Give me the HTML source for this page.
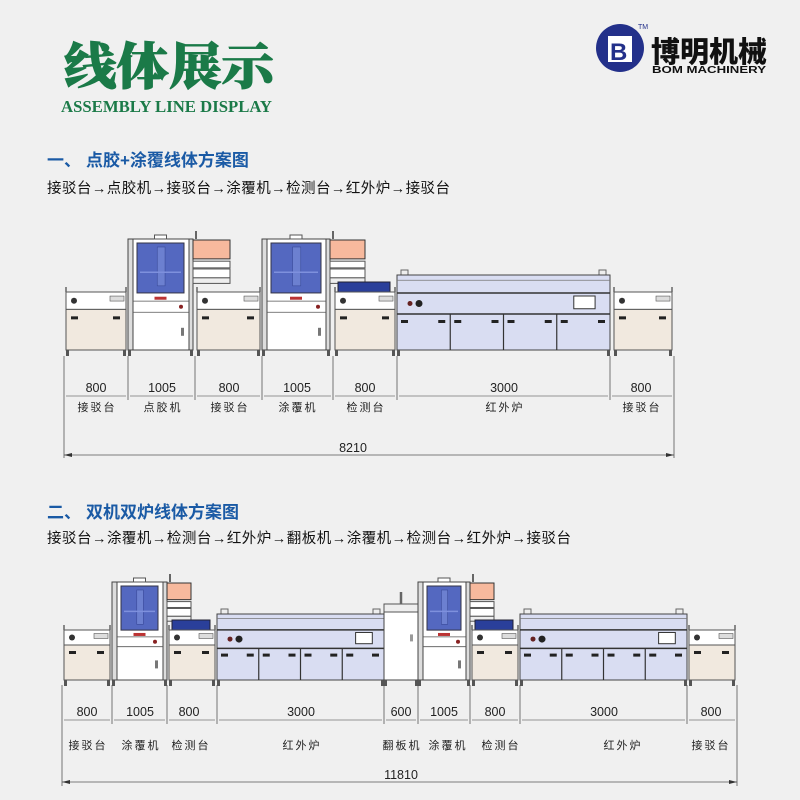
<!DOCTYPE html>
<html><head><meta charset="utf-8"><style>
body{margin:0;background:#f0f0f0;}
#c{position:absolute;left:0;top:0;}
.t{font-family:"Liberation Sans","Noto Sans CJK SC",sans-serif;}
</style></head><body>
<svg id="c" width="800" height="800" xmlns="http://www.w3.org/2000/svg">
<rect width="800" height="800" fill="#f0f0f0"/>
<g id="m"></g>
<text x="64" y="84" font-family="'Noto Serif CJK SC',serif" font-weight="900" font-size="50" fill="#1b7a48" textLength="210" lengthAdjust="spacingAndGlyphs" stroke="#1b7a48" stroke-width="1">线体展示</text>
<text x="61" y="112" font-family="'Liberation Serif',serif" font-weight="bold" font-size="17" fill="#1b7a48" textLength="211" lengthAdjust="spacingAndGlyphs">ASSEMBLY LINE DISPLAY</text>
<circle cx="620" cy="48" r="24" fill="#23308a"/>
<rect x="608" y="36" width="24" height="26" fill="#fff"/>
<text x="610" y="60" font-family="'Liberation Sans',sans-serif" font-weight="bold" font-size="24" fill="#23308a">B</text>
<text x="638" y="29" font-family="'Liberation Sans',sans-serif" font-size="7" fill="#23308a">TM</text>
<text x="651" y="62" font-family="'Noto Sans CJK SC',sans-serif" font-weight="900" font-size="29" fill="#111" textLength="116" lengthAdjust="spacingAndGlyphs">博明机械</text>
<text x="652" y="73" font-family="'Liberation Sans',sans-serif" font-weight="bold" font-size="10.5" fill="#111" textLength="114" lengthAdjust="spacingAndGlyphs">BOM MACHINERY</text>
<text class="t" x="47" y="166" font-size="17" font-weight="bold" fill="#1a5aa5">一、</text>
<text class="t" x="86" y="166" font-size="17" font-weight="bold" fill="#1a5aa5">点胶+涂覆线体方案图</text>
<text class="t" x="47" y="193" font-size="14.5" fill="#111" textLength="403" lengthAdjust="spacing">接驳台→点胶机→接驳台→涂覆机→检测台→红外炉→接驳台</text>
<text class="t" x="47" y="518" font-size="17" font-weight="bold" fill="#1a5aa5">二、</text>
<text class="t" x="86" y="518" font-size="17" font-weight="bold" fill="#1a5aa5">双机双炉线体方案图</text>
<text class="t" x="47" y="543" font-size="14.5" fill="#111" textLength="524" lengthAdjust="spacing">接驳台→涂覆机→检测台→红外炉→翻板机→涂覆机→检测台→红外炉→接驳台</text>
<g class="t" font-size="12.5" fill="#222" text-anchor="middle">
<text x="96" y="392">800</text><text x="162" y="392">1005</text><text x="229" y="392">800</text><text x="297" y="392">1005</text><text x="365" y="392">800</text><text x="504" y="392">3000</text><text x="641" y="392">800</text>
<g font-size="11" letter-spacing="2"><text x="97" y="411">接驳台</text><text x="163" y="411">点胶机</text><text x="230" y="411">接驳台</text><text x="298" y="411">涂覆机</text><text x="366" y="411">检测台</text><text x="505" y="411">红外炉</text><text x="642" y="411">接驳台</text></g>
<text x="353" y="452">8210</text>
<text x="87" y="716">800</text><text x="140" y="716">1005</text><text x="189" y="716">800</text><text x="301" y="716">3000</text><text x="401" y="716">600</text><text x="444" y="716">1005</text><text x="495" y="716">800</text><text x="604" y="716">3000</text><text x="711" y="716">800</text>
<g font-size="11" letter-spacing="2"><text x="88" y="749">接驳台</text><text x="141" y="749">涂覆机</text><text x="191" y="749">检测台</text><text x="302" y="749">红外炉</text><text x="402" y="749">翻板机</text><text x="448" y="749">涂覆机</text><text x="501" y="749">检测台</text><text x="623" y="749">红外炉</text><text x="711" y="749">接驳台</text></g>
<text x="401" y="779">11810</text>
</g>
<path d="M64 455 l8 -2 v4 z M674 455 l-8 -2 v4 z M62 782 l8 -2 v4 z M737 782 l-8 -2 v4 z" fill="#333"/>
</svg>
<script>
const g=document.getElementById('m');const NS='http://www.w3.org/2000/svg';
function r(x,y,w,h,f,s,sw){const e=document.createElementNS(NS,'rect');e.setAttribute('x',x);e.setAttribute('y',y);e.setAttribute('width',w);e.setAttribute('height',h);e.setAttribute('fill',f||'none');if(s!==0){e.setAttribute('stroke',s||'#444');e.setAttribute('stroke-width',sw||1);}g.appendChild(e);}
function l(x1,y1,x2,y2,s,sw){const e=document.createElementNS(NS,'line');e.setAttribute('x1',x1);e.setAttribute('y1',y1);e.setAttribute('x2',x2);e.setAttribute('y2',y2);e.setAttribute('stroke',s||'#555');e.setAttribute('stroke-width',sw||0.8);g.appendChild(e);}
function c(x,y,rr,f){const e=document.createElementNS(NS,'circle');e.setAttribute('cx',x);e.setAttribute('cy',y);e.setAttribute('r',rr);e.setAttribute('fill',f);g.appendChild(e);}
function feet(x1,x2,y){r(x1,y,3,6,'#555',0);r(x2-3,y,3,6,'#555',0);}
function conv(x1,x2,top,bot,blue){const w=x2-x1;const h=bot-top;
 if(blue)r(x1+5,top-10,w-12,10,'#2a3f9a','#223');
 r(x1+2,top,w-4,h*0.3,'#fff','#555');r(x1+2,top+h*0.3,w-4,h*0.7,'#f1e9df','#555');
 c(x1+10,top+h*0.15,3,'#333');r(x2-18,top+h*0.07,14,5,'#ddd','#555',.6);
 r(x1+7,top+h*0.42,7,3,'#222',0);r(x2-15,top+h*0.42,7,3,'#222',0);
 l(x1+2,top,x1+2,top-5,'#666',1.5);l(x2-2,top,x2-2,top-5,'#666',1.5);feet(x1+2,x2-2,bot);}
function mach(x1,x2,top,bot,mon){const w=x2-x1,h=bot-top;
 r(x1,top,5,h,'#ddd','#444');r(x1+5,top,w-9,h,'#fff','#444');r(x2-4,top,4,h,'#ddd','#444');
 r(x1+w/2-6,top-4,12,4,'#fff','#555');
 r(x1+9,top+4,w-18,h*0.45,'#5468c0','#334');
 r(x1+w*0.45,top+8,w*0.12,h*0.35,'#6c80d0','#3a4a9a',.6);l(x1+12,top+h*0.3,x2-12,top+h*0.3,'#7e90dd',1.5);
 r(x1+w/2-6,top+h*0.52,12,3,'#b33',0);
 l(x1+5,top+h*0.56,x2-4,top+h*0.56,'#555');l(x1+5,top+h*0.66,x2-4,top+h*0.66,'#555');
 c(x2-12,top+h*0.61,2,'#822');r(x2-12,top+h*0.8,3,8,'#777',0);feet(x1,x2,bot);
 if(mon){const mw=mon;r(x2,top+1,mw,h*0.17,'#f7b99d','#333');r(x2,top+h*0.2,mw,h*0.06,'#fff','#555');r(x2,top+h*0.27,mw,h*0.08,'#fff','#555');r(x2,top+h*0.35,mw,h*0.05,'#eee','#555');l(x2+3,top,x2+3,top-8,'#666',2);}}
function oven(x1,x2,top,bot){const w=x2-x1,h=bot-top;
 r(x1+4,top-5,7,5,'#eee','#666');r(x2-11,top-5,7,5,'#eee','#666');
 r(x1,top,w,h,'#d9ddf2','#444');l(x1,top+h*0.07,x2,top+h*0.07,'#777');
 l(x1,top+h*0.24,x2,top+h*0.24,'#333',1.5);l(x1,top+h*0.52,x2,top+h*0.52,'#333',1.5);
 for(let i=1;i<4;i++)l(x1+w*i/4,top+h*0.52,x1+w*i/4,bot,'#333',1.2);
 for(let i=0;i<4;i++){r(x1+w*i/4+4,top+h*0.6,7,3,'#222',0);r(x1+w*(i+1)/4-12,top+h*0.6,7,3,'#222',0);}
 c(x1+22,top+h*0.38,3.5,'#222');c(x1+13,top+h*0.38,2.5,'#622');
 r(x2-w*0.17,top+h*0.28,w*0.1,h*0.17,'#fff','#333');feet(x1,x2,bot);}
function flip(x1,x2,top,bot){r(x1,top,x2-x1,bot-top,'#fff','#444');r(x1,top,x2-x1,8,'#eee','#555');l((x1+x2)/2,top,(x1+x2)/2,top-12,'#666',2.5);r(x2-8,top+(bot-top)*0.4,3,7,'#999',0);feet(x1,x2,bot);}
function vt(x,y1,y2){l(x,y1,x,y2,'#555',0.8);}
function dim(xs,y){for(let i=0;i<xs.length-1;i++){l(xs[i]+2,y,xs[i+1]-2,y,'#777',0.7);}}
conv(64,128,292,350);mach(128,193,239,350,37);conv(195,262,292,350);mach(262,330,239,350,35);conv(333,397,292,350,true);oven(397,610,275,350);conv(612,674,292,350);
const x1=[64,128,195,262,333,397,610,674];x1.forEach(x=>vt(x,356,400));vt(64,400,458);vt(674,400,458);dim(x1,396);
l(64,455,674,455,'#555',0.8);
conv(62,112,630,680);mach(112,167,582,680,24);conv(167,217,630,680,true);oven(217,384,614,680);flip(384,418,604,680);mach(418,470,582,680,24);conv(470,520,630,680,true);oven(520,687,614,680);conv(687,737,630,680);
const x2=[62,112,167,217,384,418,470,520,687,737];x2.forEach(x=>vt(x,685,724));vt(62,724,786);vt(737,724,786);dim(x2,720);
l(62,782,737,782,'#555',0.8);
</script>
</body></html>
